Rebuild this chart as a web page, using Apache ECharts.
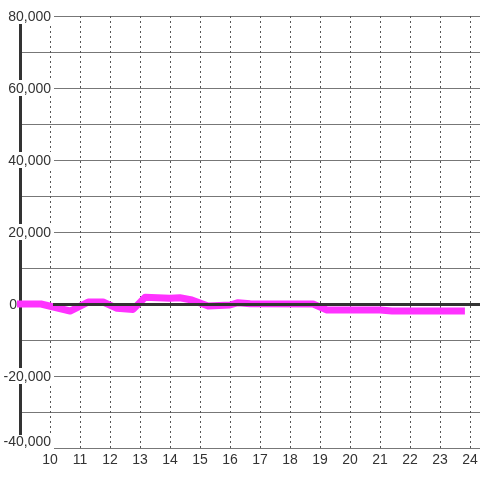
<!DOCTYPE html>
<html>
<head>
<meta charset="utf-8">
<script src="https://cdn.jsdelivr.net/npm/echarts@6/dist/echarts.min.js"></script>
<style>
  html, body { margin: 0; padding: 0; background: #fff; }
  #chart { width: 480px; height: 480px; }
</style>
</head>
<body>
<div id="chart"></div>
<script>
  // time of day (hours) and value
  var hours = [8.9, 9.7, 10.67, 11.27, 11.77, 12.23, 12.77, 13.17, 14.0, 14.33, 14.73, 15.27, 16.0, 16.27, 16.67, 18.77, 19.23, 21.0, 21.4, 23.83];
  var values = [0, 0, -1950, 550, 550, -1200, -1500, 1850, 1600, 1750, 1100, -550, -280, 360, 80, 0, -1670, -1670, -1950, -1950];
  var yMin = -40000, yMax = 80000, yStep = 20000;
  var xMin = 9, xMax = 24.333;

  var chart = echarts.init(document.getElementById('chart'));
  var pts = hours.map(function (h, i) { return [h, values[i]]; });

  var labelFont = 'Liberation Sans, Arial, sans-serif';

  var option = {
    backgroundColor: '#ffffff',
    animation: false,
    grid: { left: 20, right: 0, top: 16, bottom: 32, containLabel: false, outerBoundsMode: 'none' },
    xAxis: [
      {
        // dotted vertical grid lines (under the y labels)
        type: 'value',
        min: xMin,
        max: xMax,
        interval: 1,
        z: 0,
        axisLine: { show: false, onZero: false },
        axisTick: { show: false },
        axisLabel: { show: false },
        splitLine: { show: true, lineStyle: { color: '#555', width: 1, type: [2, 3] } }
      },
      {
        // hour labels (above the y label boxes)
        type: 'value',
        position: 'bottom',
        min: xMin,
        max: xMax,
        interval: 1,
        z: 2,
        axisLine: { show: false, onZero: false },
        axisTick: { show: false },
        splitLine: { show: false },
        axisLabel: {
          margin: 5,
          fontSize: 14,
          fontFamily: labelFont,
          color: '#333',
          formatter: function (v) {
            return (Number.isInteger(v) && v >= 10) ? String(v) : '';
          }
        }
      }
    ],
    yAxis: [
      {
        // labels + thick axis line
        type: 'value',
        min: yMin,
        max: yMax,
        interval: yStep,
        z: 1,
        axisLine: { show: true, onZero: false, lineStyle: { color: '#333', width: 3 } },
        axisTick: { show: false },
        splitLine: { show: false },
        axisLabel: {
          margin: -34,
          align: 'right',
          verticalAlign: 'middle',
          fontSize: 14,
          fontFamily: labelFont,
          color: '#333',
          formatter: function (v) {
            if (v === 0) return '{z|0}';
            if (v === yMin) return '{b|' + v.toLocaleString('en-US') + '}';
            return '{n|' + v.toLocaleString('en-US') + '}';
          },
          rich: {
            n: { fontSize: 14, color: '#333', lineHeight: 16, backgroundColor: '#fff', padding: [2, 3, 0, 2] },
            b: { fontSize: 14, color: '#333', lineHeight: 16, backgroundColor: '#fff', padding: [0, 3, 12, 2] },
            z: { fontSize: 14, color: '#333', lineHeight: 16, padding: [2, 37, 0, 0] }
          }
        }
      },
      {
        // solid horizontal grid lines
        type: 'value',
        min: yMin,
        max: yMax,
        interval: yStep,
        z: 0,
        axisLine: { show: false },
        axisTick: { show: false },
        axisLabel: { show: false },
        minorTick: { show: false, splitNumber: 2 },
        splitLine: { show: true, lineStyle: { color: '#777', width: 1 } },
        minorSplitLine: { show: true, lineStyle: { color: '#777', width: 1 } }
      }
    ],
    series: [
      {
        type: 'line',
        z: 1,
        data: [],
        silent: true,
        markLine: {
          silent: true,
          symbol: 'none',
          label: { show: false },
          lineStyle: { color: '#333', width: 3, type: 'solid' },
          data: [[{ coord: [10.1, 0] }, { coord: [xMax, 0] }]]
        }
      },
      {
        type: 'line',
        z: 3,
        data: pts,
        showSymbol: false,
        clip: false,
        lineStyle: { color: '#ff33ff', width: 7, join: 'round' },
        itemStyle: { color: '#ff33ff' }
      }
    ]
  };
  chart.setOption(option);
</script>
</body>
</html>
